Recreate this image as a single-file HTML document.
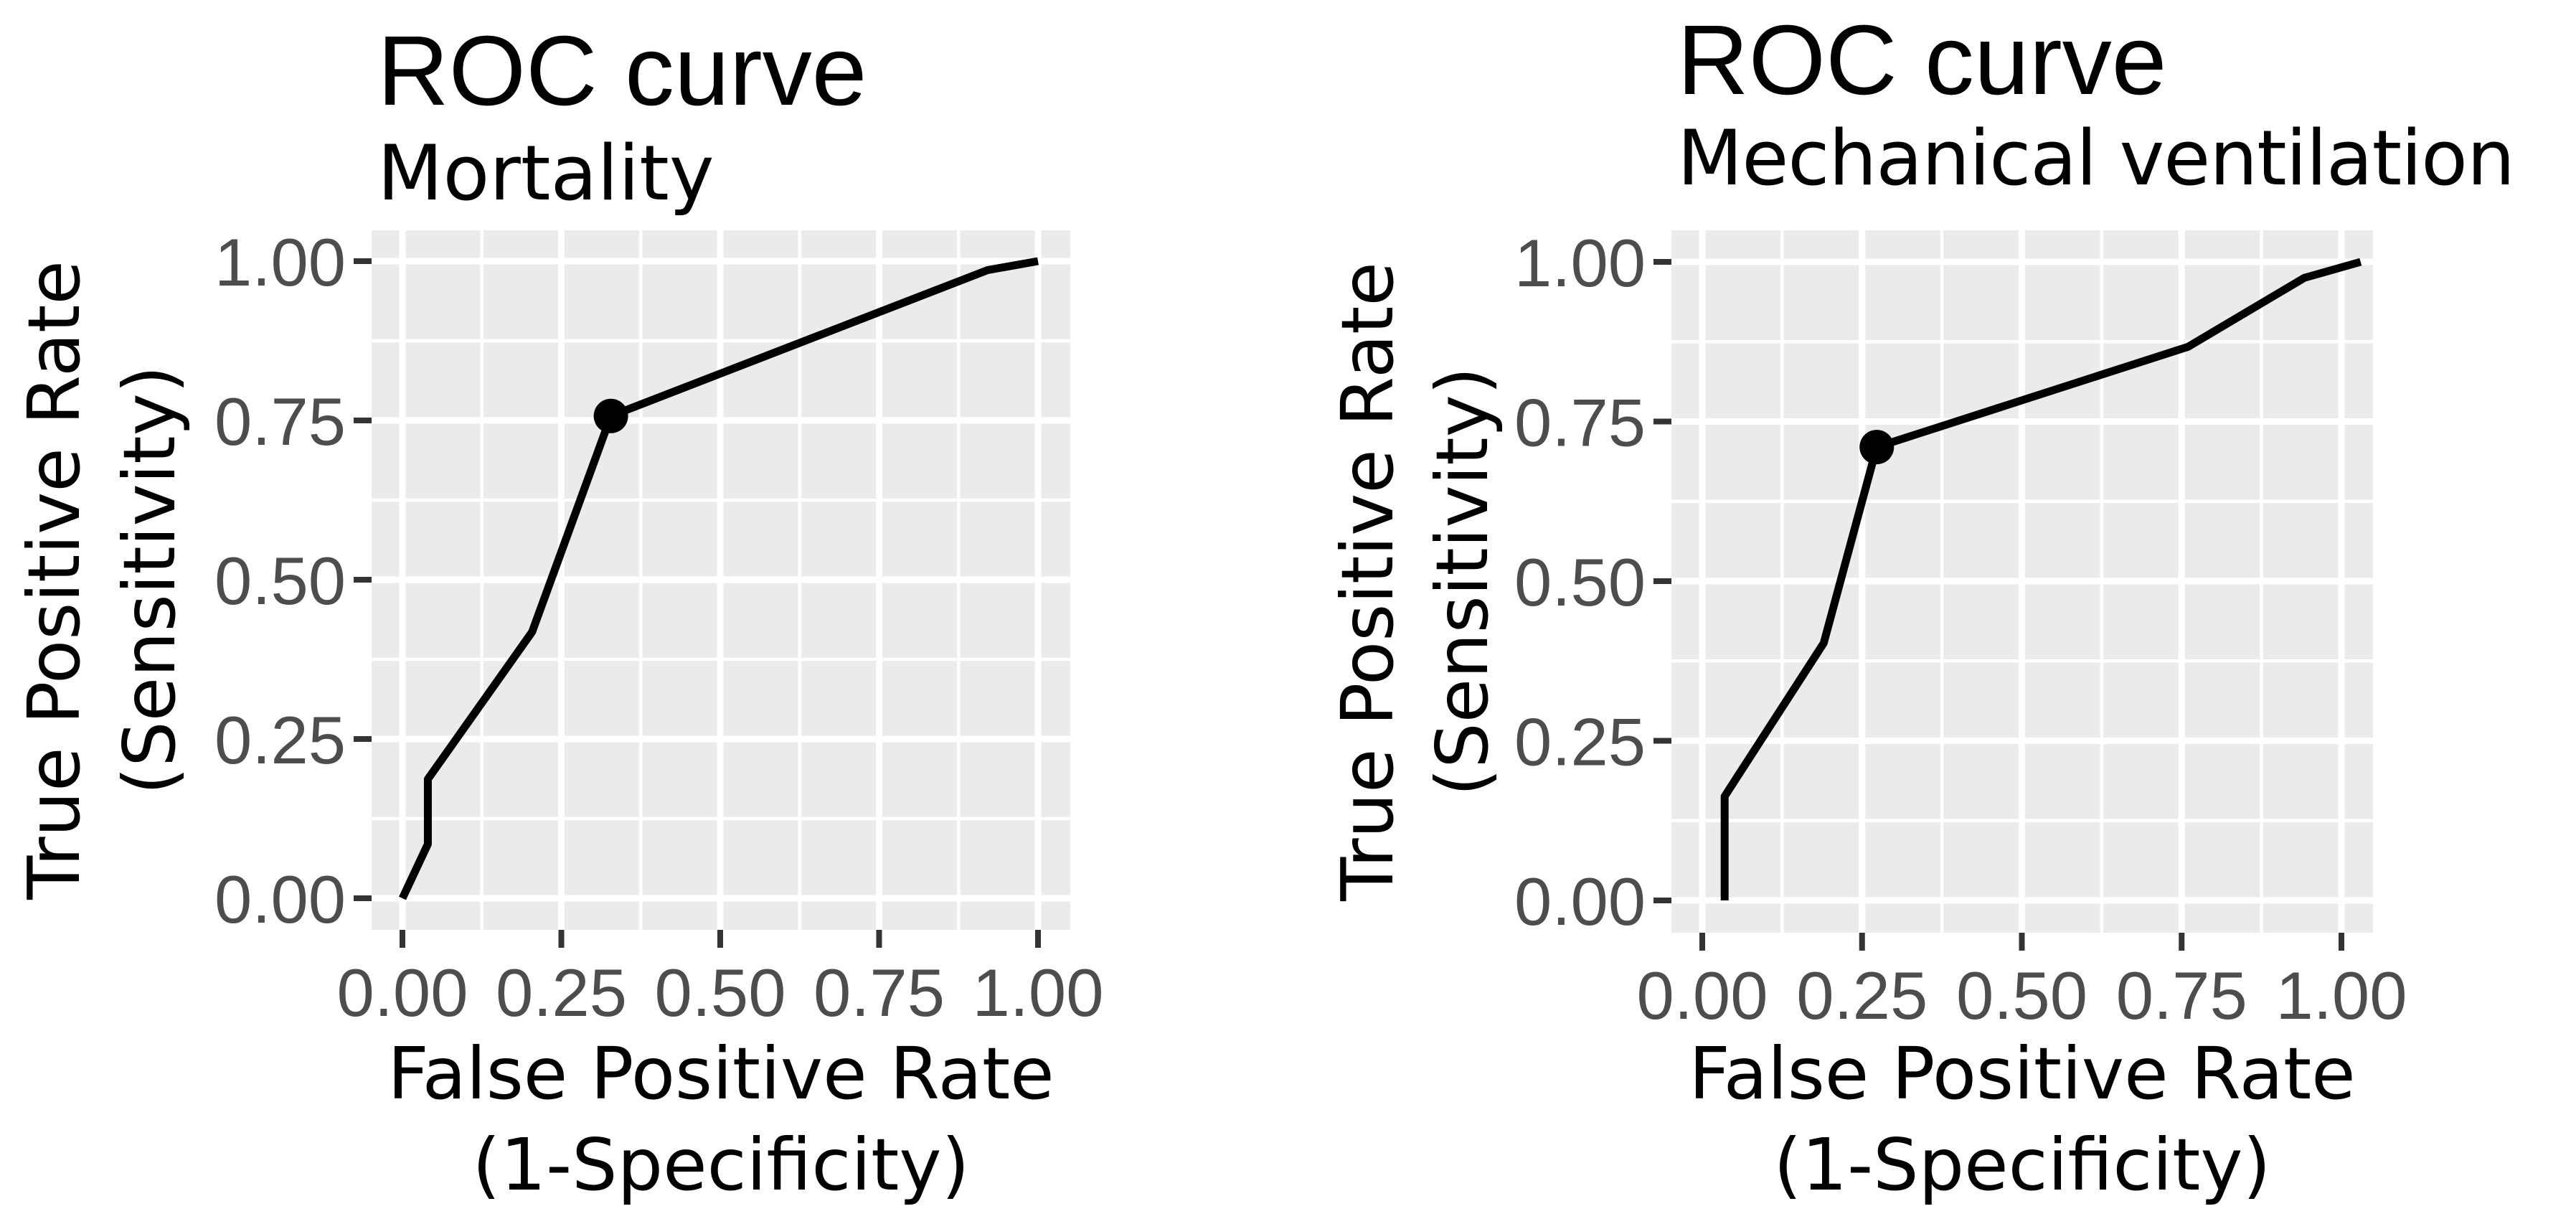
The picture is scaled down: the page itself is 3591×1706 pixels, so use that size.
<!DOCTYPE html>
<html><head><meta charset="utf-8"><style>html,body{margin:0;padding:0;background:#fff}svg{display:block}</style></head>
<body>
<svg id="chart" width="3591" height="1706" viewBox="0 0 3591 1706" xmlns="http://www.w3.org/2000/svg" font-family="'DejaVu Sans', sans-serif"></svg>
<script>
const ticks = [0, 0.25, 0.5, 0.75, 1];
const tickLabels = ["0.00", "0.25", "0.50", "0.75", "1.00"];
const mortFpr = [0, 0.04, 0.04, 0.204, 0.328, 0.737, 0.921, 1.0];
const mortTpr = [0, 0.085, 0.187, 0.418, 0.757, 0.915, 0.986, 1.0];
const mortCut = [0.328, 0.757];
const mvFpr = [0.035, 0.035, 0.19, 0.273, 0.76, 0.942, 1.03];
const mvTpr = [0, 0.163, 0.403, 0.71, 0.867, 0.975, 1.0];
const mvCut = [0.273, 0.71];

const svg = document.getElementById('chart');
const NS = 'http://www.w3.org/2000/svg';
function mk(tag, attrs, parent) {
  const e = document.createElementNS(NS, tag);
  for (const k in attrs) e.setAttribute(k, attrs[k]);
  (parent || svg).appendChild(e);
  return e;
}
function panel(cfg, fpr, tpr, cut, name) {
  const g = mk('g', {});
  
  
  const sx = v => cfg.x0 + v * (cfg.x1 - cfg.x0);
  const sy = v => cfg.y0 + v * (cfg.y1 - cfg.y0);
  const bg = mk('rect', {x: cfg.px0, y: cfg.py0, width: cfg.px1 - cfg.px0, height: cfg.py1 - cfg.py0, fill: '#ebebeb'}, g);
  
  
  for (let i = 0; i < ticks.length - 1; i++) {
    const m = (ticks[i] + ticks[i + 1]) / 2;
    mk('line', {x1: sx(m), x2: sx(m), y1: cfg.py0, y2: cfg.py1, stroke: '#fff', 'stroke-width': 4.5}, g);
    mk('line', {y1: sy(m), y2: sy(m), x1: cfg.px0, x2: cfg.px1, stroke: '#fff', 'stroke-width': 4.5}, g);
  }
  ticks.forEach((t, i) => {
    const vg = mk('line', {x1: sx(t), x2: sx(t), y1: cfg.py0, y2: cfg.py1, stroke: '#fff', 'stroke-width': 9}, g);
    
    
    const hg = mk('line', {y1: sy(t), y2: sy(t), x1: cfg.px0, x2: cfg.px1, stroke: '#fff', 'stroke-width': 9}, g);
    
    
    mk('line', {x1: sx(t), x2: sx(t), y1: cfg.py1, y2: cfg.py1 + 25, stroke: '#333', 'stroke-width': 8}, g);
    mk('line', {y1: sy(t), y2: sy(t), x1: cfg.px0 - 25, x2: cfg.px0, stroke: '#333', 'stroke-width': 8}, g);
    const xl = mk('text', {x: sx(t), y: cfg.py1 + 120, 'text-anchor': 'middle', 'font-size': 94, fill: '#4d4d4d', 'font-family': "'Liberation Sans', sans-serif"}, g);
    xl.textContent = tickLabels[i];
    
    
    const yl = mk('text', {x: cfg.px0 - 36, y: sy(t) + 34, 'text-anchor': 'end', 'font-size': 94, fill: '#4d4d4d', 'font-family': "'Liberation Sans', sans-serif"}, g);
    yl.textContent = tickLabels[i];
    
    
  });
  const pts = fpr.map((v, i) => sx(v) + ',' + sy(tpr[i])).join(' ');
  const line = mk('polyline', {points: pts, fill: 'none', stroke: '#000', 'stroke-width': 11, 'stroke-linejoin': 'round'}, g);
  
  
  const dot = mk('circle', {cx: sx(cut[0]), cy: sy(cut[1]), r: 24, fill: '#000'}, g);
  
  
  const cx = (cfg.px0 + cfg.px1) / 2;
  const xt = mk('text', {x: cx, y: 1531, 'text-anchor': 'middle', 'font-size': 100, fill: '#000'}, g);
  xt.textContent = 'False Positive Rate';
  
  
  const xt2 = mk('text', {x: cx, y: 1658, 'text-anchor': 'middle', 'font-size': 100, fill: '#000'}, g);
  xt2.textContent = '(1-Specificity)';
  
  
  const cy = (cfg.py0 + cfg.py1) / 2;
  const yt = mk('text', {x: 0, y: 0, 'text-anchor': 'middle', 'font-size': 100, fill: '#000', transform: 'translate(' + cfg.yt1 + ',' + cy + ') rotate(-90)'}, g);
  yt.textContent = 'True Positive Rate';
  
  
  const yt2 = mk('text', {x: 0, y: 0, 'text-anchor': 'middle', 'font-size': 100, fill: '#000', transform: 'translate(' + cfg.yt2 + ',' + cy + ') rotate(-90)'}, g);
  yt2.textContent = '(Sensitivity)';
  
  
  const t = mk('text', {x: cfg.tx, y: cfg.ty, 'font-size': 138, fill: '#000', 'font-family': "'Liberation Sans', sans-serif"}, g);
  t.textContent = 'ROC curve';
  
  
  const st = mk('text', {x: cfg.tx, y: cfg.sty, 'font-size': 106, fill: '#000'}, g);
  st.textContent = cfg.sub;
  
  
  if (cfg.subLen) st.setAttribute('textLength', cfg.subLen);
}
panel({x0: 561, x1: 1447, y0: 1252, y1: 364, px0: 518, px1: 1492, py0: 321, py1: 1296,
  yt1: 110, yt2: 243, tx: 526, ty: 146, sty: 278, sub: 'Mortality'}, mortFpr, mortTpr, mortCut, 'mortality');
panel({x0: 2373, x1: 3264, y0: 1255, y1: 365, px0: 2330, px1: 3308, py0: 321, py1: 1300,
  yt1: 1941, yt2: 2073, tx: 2338, ty: 131, sty: 257, sub: 'Mechanical ventilation', subLen: 1168}, mvFpr, mvTpr, mvCut, 'mechanical-ventilation');
</script>
</body></html>
